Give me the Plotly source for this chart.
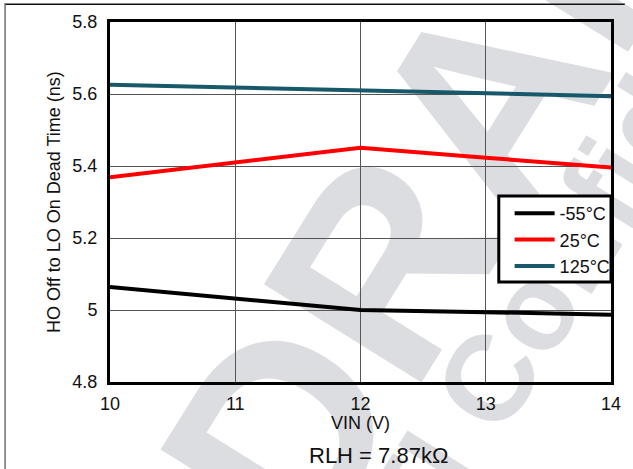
import plotly.graph_objects as go

vin = [10, 11, 12, 13, 14]
t_m55 = [5.064, 5.033, 5.000, 4.994, 4.987]
t_25 = [5.369, 5.409, 5.451, 5.423, 5.396]
t_125 = [5.626, 5.618, 5.608, 5.601, 5.594]
series_names = ["-55°C", "25°C", "125°C"]
series_colors = ["#000000", "#ff0000", "#17596a"]
x_ticks = [10, 11, 12, 13, 14]
y_ticks = [4.8, 5.0, 5.2, 5.4, 5.6, 5.8]
y_tick_text = ["4.8", "5", "5.2", "5.4", "5.6", "5.8"]

FONT = "Liberation Sans, Arial, sans-serif"

fig = go.Figure()
for name, ys, col in zip(series_names, [t_m55, t_25, t_125], series_colors):
    fig.add_trace(go.Scatter(x=vin, y=ys, mode="lines", name=name,
                             line=dict(color=col, width=4)))

W, H = 633, 469
L, R, T, B = 110, 14, 22, 87
pw, ph = W - L - R, H - T - B

def px(x):
    return (x - L) / pw

def py(y):
    return (H - B - y) / ph

WM = "#dcdde0"
shapes = [
    # watermark (below grid)
    dict(type="rect", xref="paper", yref="paper", layer="below",
         x0=px(455), x1=px(455), y0=py(112), y1=py(112),
         line=dict(width=0), fillcolor="rgba(0,0,0,0)",
         label=dict(text="<b>DRAFT</b>", textangle=-58, textposition="middle center",
                    font=dict(family=FONT, size=270, color=WM, weight="bold"))),
    dict(type="rect", xref="paper", yref="paper", layer="below",
         x0=px(612), x1=px(612), y0=py(172), y1=py(172),
         line=dict(width=0), fillcolor="rgba(0,0,0,0)",
         label=dict(text="<b>TI Confidential</b>", textangle=-58, textposition="middle center",
                    font=dict(family=FONT, size=122, color=WM, weight="bold"))),
    # page frame lines (thin filled rects)
    dict(type="rect", xref="paper", yref="paper", layer="above",
         x0=px(3), x1=px(W), y0=py(5), y1=py(3.6),
         line=dict(width=0), fillcolor="#111111"),
    dict(type="rect", xref="paper", yref="paper", layer="above",
         x0=px(2.6), x1=px(4.2), y0=py(H), y1=py(3.6),
         line=dict(width=0), fillcolor="#777777"),
    # legend box
    dict(type="rect", xref="paper", yref="paper", layer="above",
         x0=px(505), x1=px(619), y0=py(282), y1=py(196),
         line=dict(color="#000000", width=3), fillcolor="#ffffff"),
]

annotations = [
    dict(text="VIN (V)", xref="paper", yref="paper", x=0.5, y=py(423),
         showarrow=False, xanchor="center", yanchor="middle",
         font=dict(family=FONT, size=18, color="#111111")),
    dict(text="RLH = 7.87kΩ", xref="paper", yref="paper", x=px(383), y=py(455),
         showarrow=False, xanchor="center", yanchor="middle",
         font=dict(family=FONT, size=22, color="#111111")),
    dict(text="HO Off to LO On Dead Time (ns)", xref="paper", yref="paper",
         x=px(53), y=0.5, textangle=-90, showarrow=False,
         xanchor="center", yanchor="middle",
         font=dict(family=FONT, size=18, color="#111111")),
]

fig.update_layout(
    width=W, height=H,
    margin=dict(l=L, r=R, t=T, b=B, pad=0),
    paper_bgcolor="#ffffff", plot_bgcolor="rgba(0,0,0,0)",
    font=dict(family=FONT, size=18, color="#111111"),
    showlegend=True,
    legend=dict(x=px(516), xanchor="left", y=py(195), yanchor="top",
                bgcolor="rgba(0,0,0,0)", borderwidth=0,
                font=dict(family=FONT, size=18, color="#111111"),
                itemwidth=40, tracegroupgap=0),
    shapes=shapes,
    annotations=annotations,
)
fig.update_xaxes(range=[10, 14], tickvals=x_ticks, ticktext=[str(v) for v in x_ticks],
                 showgrid=True, gridcolor="#555555", gridwidth=1,
                 showline=True, linecolor="#000000", linewidth=3, mirror=True,
                 ticks="", ticklabelstandoff=3, zeroline=False,
                 tickfont=dict(family=FONT, size=18, color="#111111"))
fig.update_yaxes(range=[4.8, 5.8], tickvals=y_ticks, ticktext=y_tick_text,
                 showgrid=True, gridcolor="#555555", gridwidth=1,
                 showline=True, linecolor="#000000", linewidth=3, mirror=True,
                 ticks="", ticklabelstandoff=6, zeroline=False,
                 tickfont=dict(family=FONT, size=18, color="#111111"))

fig.write_html("out.html", config={"displayModeBar": False},
               post_script="document.body.style.margin='0';document.body.style.padding='0';")
